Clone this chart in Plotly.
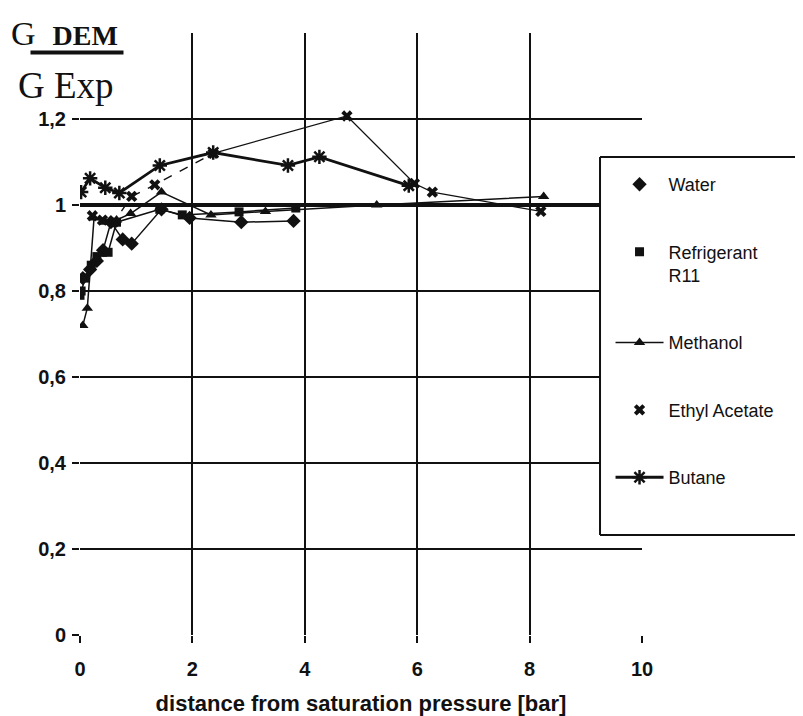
import plotly.graph_objects as go

# ---------------- data ----------------
WATER_X = [0.05, 0.18, 0.30, 0.41, 0.55, 0.76, 0.92, 1.45, 1.95, 2.87, 3.80]
WATER_Y = [0.83, 0.85, 0.87, 0.895, 0.96, 0.92, 0.91, 0.99, 0.97, 0.96, 0.963]

R11_X = [0.00, 0.02, 0.10, 0.20, 0.30, 0.40, 0.50, 0.65, 1.42, 1.82, 2.83, 3.84]
R11_Y = [0.79, 0.80, 0.83, 0.86, 0.88, 0.89, 0.89, 0.96, 0.99, 0.977, 0.984, 0.993]

METHANOL_X = [0.05, 0.13, 0.25, 0.45, 0.65, 0.90, 1.45, 2.33, 3.30, 5.28, 8.25]
METHANOL_Y = [0.72, 0.76, 0.97, 0.96, 0.965, 0.98, 1.03, 0.977, 0.985, 1.00, 1.02]

ETHYL_X = [0.22, 0.40, 0.60, 0.92, 1.33, 2.37, 4.75, 5.95, 6.27, 8.20]
ETHYL_Y = [0.975, 0.965, 0.96, 1.02, 1.047, 1.12, 1.207, 1.05, 1.03, 0.985]

BUTANE_X = [0.02, 0.18, 0.45, 0.70, 1.42, 2.37, 3.70, 4.26, 5.85]
BUTANE_Y = [1.03, 1.062, 1.04, 1.028, 1.092, 1.122, 1.092, 1.112, 1.045]

IDEAL_RATIO = 1.0

X_TICKS = [0, 2, 4, 6, 8, 10]
Y_TICKS = [0, 0.2, 0.4, 0.6, 0.8, 1.0, 1.2, 1.4]
Y_TICK_TEXT = ["0", "0,2", "0,4", "0,6", "0,8", "1", "1,2", ""]

X_TITLE = "distance from saturation pressure [bar]"

# ---------------- figure ----------------
INK = "#111111"
fig = go.Figure()

# connecting lines (not in legend)
fig.add_trace(go.Scatter(x=WATER_X, y=WATER_Y, mode="lines", showlegend=False,
                         legendgroup="w", line=dict(color=INK, width=1.5), hoverinfo="skip"))
fig.add_trace(go.Scatter(x=R11_X, y=R11_Y, mode="lines", showlegend=False,
                         legendgroup="r", line=dict(color=INK, width=1.5), hoverinfo="skip"))
fig.add_trace(go.Scatter(x=ETHYL_X[:6], y=ETHYL_Y[:6], mode="lines", showlegend=False,
                         legendgroup="e", line=dict(color=INK, width=1.4, dash="dash"), hoverinfo="skip"))
fig.add_trace(go.Scatter(x=ETHYL_X[5:], y=ETHYL_Y[5:], mode="lines", showlegend=False,
                         legendgroup="e", line=dict(color=INK, width=1.2), hoverinfo="skip"))

# legend traces
fig.add_trace(go.Scatter(x=WATER_X, y=WATER_Y, mode="markers", name="Water", legendgroup="w",
                         marker=dict(symbol="diamond", size=11, color=INK)))
fig.add_trace(go.Scatter(x=R11_X, y=R11_Y, mode="markers", name="Refrigerant<br>R11", legendgroup="r",
                         marker=dict(symbol="square", size=9, color=INK)))
fig.add_trace(go.Scatter(x=METHANOL_X, y=METHANOL_Y, mode="lines+markers", name="Methanol", legendgroup="m",
                         line=dict(color=INK, width=1.5),
                         marker=dict(symbol="triangle-up", size=10, color=INK)))
fig.add_trace(go.Scatter(x=ETHYL_X, y=ETHYL_Y, mode="markers", name="Ethyl Acetate", legendgroup="e",
                         marker=dict(symbol="x", size=10, color=INK)))
fig.add_trace(go.Scatter(x=BUTANE_X, y=BUTANE_Y, mode="lines+markers", name="Butane", legendgroup="b",
                         line=dict(color=INK, width=2.8),
                         marker=dict(symbol="asterisk-open", size=12, color=INK,
                                     line=dict(color=INK, width=2.5))))

# thick reference line at ratio = 1
fig.add_hline(y=IDEAL_RATIO, line=dict(color=INK, width=4))

# legend box (white, covers right part of the plot; open to the right edge)
BOX_RIGHT = 1.2865
fig.add_shape(type="rect", xref="paper", yref="paper",
              x0=0.9253, x1=BOX_RIGHT, y0=0.166, y1=0.794,
              line=dict(width=0), fillcolor="white", layer="above")
for (px0, px1, py0, py1) in [(0.9253, BOX_RIGHT, 0.794, 0.794), (0.9253, 0.9253, 0.166, 0.794),
                             (0.9253, BOX_RIGHT, 0.166, 0.166)]:
    fig.add_shape(type="line", xref="paper", yref="paper", x0=px0, x1=px1, y0=py0, y1=py1,
                  line=dict(color=INK, width=2), layer="above")

# y-axis title as a fraction
fig.add_annotation(xref="paper", yref="paper", x=-0.1246, y=0.999, xanchor="left", yanchor="middle",
                   text="G&nbsp;&nbsp;<b><span style='font-size:28px'>DEM</span></b>", showarrow=False,
                   font=dict(family="Liberation Serif", size=34, color=INK),
                   bgcolor="white", borderpad=0)
fig.add_annotation(xref="paper", yref="paper", x=-0.112, y=0.912, xanchor="left", yanchor="middle",
                   text="G Exp", showarrow=False,
                   font=dict(family="Liberation Serif", size=37, color=INK),
                   bgcolor="white", borderpad=0)
fig.add_annotation(xref="paper", yref="paper", x=-0.0062, y=0.9668, xanchor="center", yanchor="middle",
                   text=" ", showarrow=False, width=92, height=3, borderpad=0,
                   font=dict(size=1), bgcolor=INK)

fig.update_layout(
    width=795, height=708,
    margin=dict(l=72, r=161, t=25, b=81, autoexpand=False),
    paper_bgcolor="white", plot_bgcolor="white",
    font=dict(family="Liberation Sans", color=INK),
    showlegend=True,
    legend=dict(x=0.944, y=0.779, xanchor="left", yanchor="top",
                bgcolor="rgba(0,0,0,0)", borderwidth=0,
                font=dict(family="Liberation Sans", size=18, color=INK),
                traceorder="grouped", tracegroupgap=41, valign="top", itemwidth=48),
    xaxis=dict(range=[0, 10], tickvals=X_TICKS, showgrid=True, gridcolor=INK, gridwidth=1.6,
               zeroline=False, showline=False, ticks="outside", ticklen=7, tickwidth=1.5,
               tickcolor=INK, tickfont=dict(size=20, family="Liberation Sans", weight="bold"),
               ticklabelstandoff=9,
               title=dict(text="<b>" + X_TITLE + "</b>", font=dict(size=22, family="Liberation Sans"),
                          standoff=17)),
    yaxis=dict(range=[0, 1.4], tickvals=Y_TICKS, ticktext=Y_TICK_TEXT, showgrid=True, gridcolor=INK,
               gridwidth=1.6, zeroline=False, showline=False, ticks="outside", ticklen=7, tickwidth=1.5,
               tickcolor=INK, tickfont=dict(size=20, family="Liberation Sans", weight="bold"),
               ticklabelstandoff=2),
)

fig.write_html("out.html")
